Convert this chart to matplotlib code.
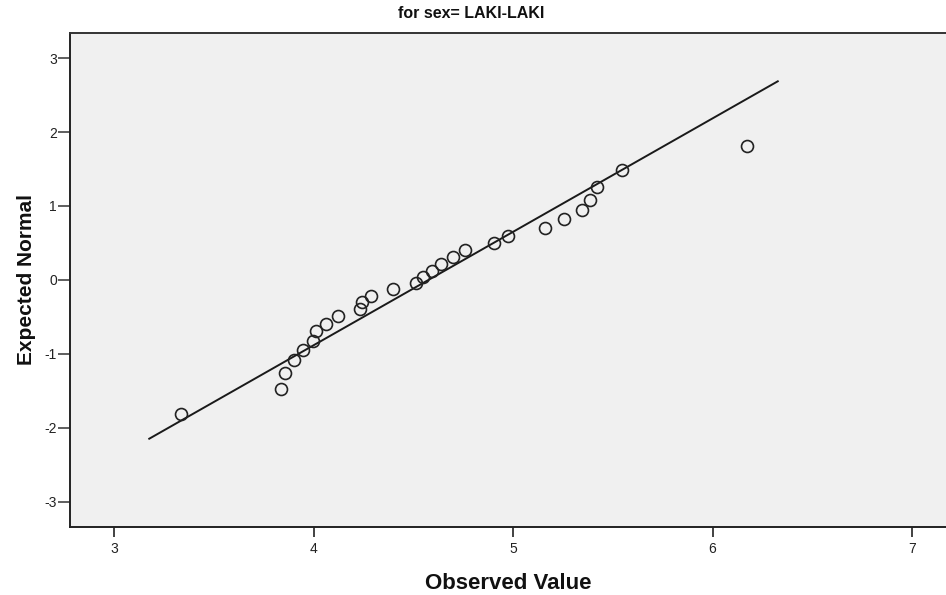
import matplotlib
matplotlib.use("Agg")
import matplotlib.pyplot as plt
import numpy as np

title = "for sex= LAKI-LAKI"
x_label = "Observed Value"
y_label = "Expected Normal"

observed = [3.336, 3.837, 3.858, 3.903, 3.948, 3.996, 4.010, 4.063, 4.120, 4.235,
            4.244, 4.289, 4.400, 4.511, 4.550, 4.596, 4.640, 4.699, 4.757, 4.902,
            4.974, 5.158, 5.257, 5.347, 5.387, 5.421, 5.546, 6.170]
expected = [-1.813, -1.479, -1.262, -1.087, -0.947, -0.821, -0.694, -0.595, -0.491, -0.396,
            -0.302, -0.212, -0.124, -0.045, 0.045, 0.122, 0.221, 0.311, 0.406, 0.505,
            0.599, 0.708, 0.821, 0.943, 1.087, 1.263, 1.488, 1.817]
line_x = [3.172, 6.331]
line_y = [-2.156, 2.693]

x_ticks = [3, 4, 5, 6, 7]
y_ticks = [-3, -2, -1, 0, 1, 2, 3]

fig = plt.figure(figsize=(9.46, 5.95), dpi=100)
fig.patch.set_facecolor("white")
ax = fig.add_axes([70/946, (595-526.7)/595, 1 - 70/946, (526.7-33)/595])
ax.set_facecolor("#f0f0f0")

ax.plot(line_x, line_y, color="#1a1a1a", lw=1.4, solid_capstyle="butt", zorder=2)
ax.plot(observed, expected, linestyle="none", marker="o", markersize=8.6,
        markerfacecolor="none", markeredgecolor="#222222", markeredgewidth=1.2, zorder=3)

ax.set_xlim(2.779, 7.17)
ax.set_ylim(-3.34, 3.34)
ax.set_xticks(x_ticks)
ax.set_yticks(y_ticks)

arial = ["Liberation Sans", "DejaVu Sans"]
ax.set_xticklabels([str(t) for t in x_ticks], family=arial, fontsize=10, color="#222222")
ax.set_yticklabels([str(t) for t in y_ticks], family=arial, fontsize=10, color="#222222")
ax.tick_params(axis="x", direction="out", length=7, width=1.3, pad=4, colors="#333333", labelcolor="#222222")
ax.tick_params(axis="y", direction="out", length=8.5, width=1.1, pad=1, colors="#333333", labelcolor="#222222")

for s in ["left", "bottom"]:
    ax.spines[s].set_color("#222222")
    ax.spines[s].set_linewidth(1.4)
ax.spines["top"].set_color("#333333")
ax.spines["top"].set_linewidth(1.4)
ax.spines["right"].set_visible(False)

ax.set_xlabel(x_label, family=arial, fontsize=16, fontweight="bold", labelpad=12, color="#111111")
ax.set_ylabel(y_label, family=arial, fontsize=15, fontweight="bold", labelpad=6, color="#111111")
fig.text(471/946, 1 - 13/595, title, ha="center", va="center", family=arial,
         fontsize=11.5, fontweight="bold", color="#111111")

fig.savefig("out.png", dpi=100, facecolor="white")
